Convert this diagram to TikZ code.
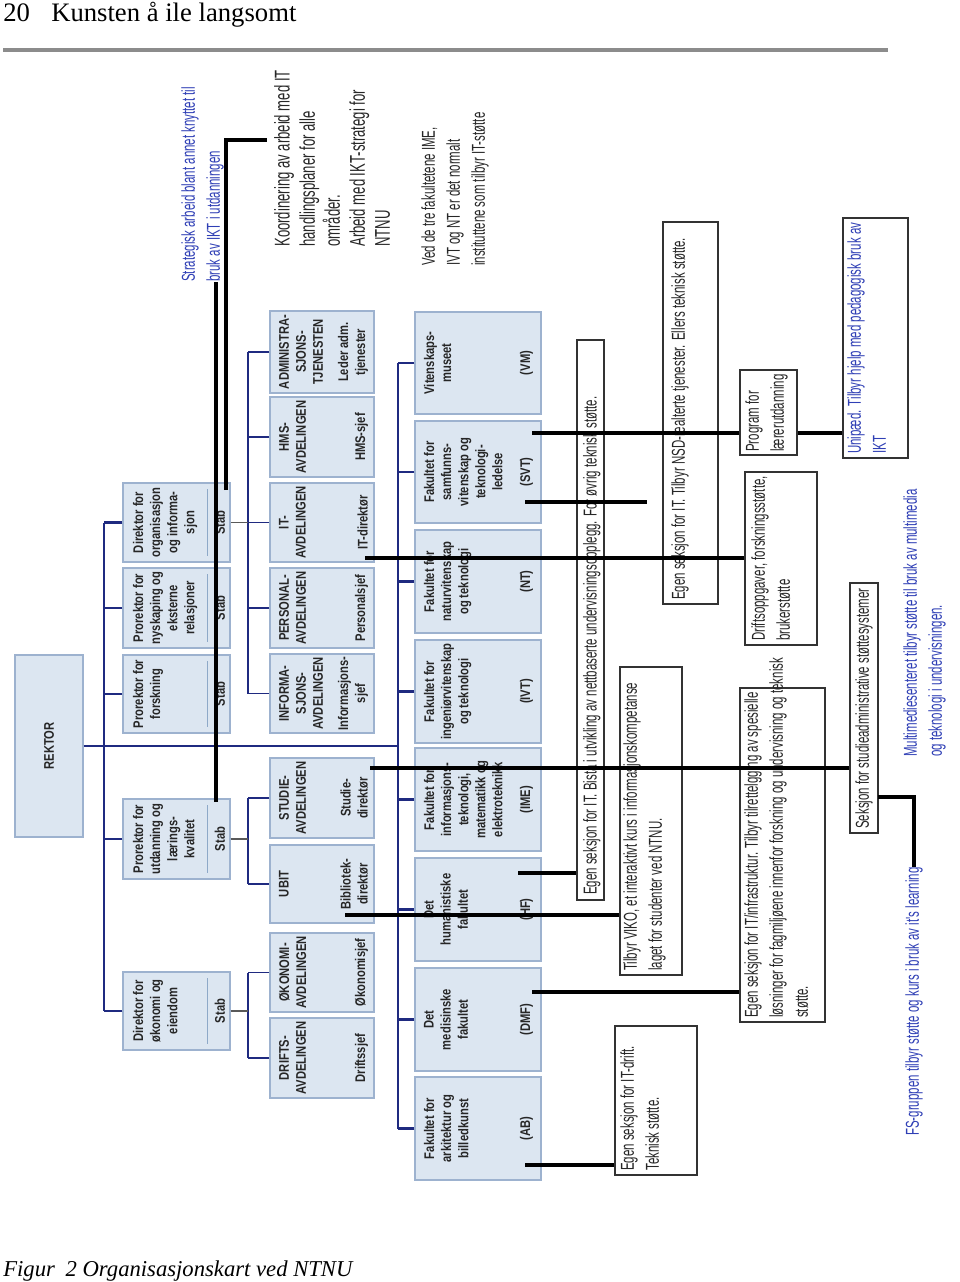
\documentclass[tikz,border=0pt]{standalone}
\usepackage{fontspec}
\setmainfont{Liberation Serif}
\newfontfamily\orgfont{Liberation Sans}[FakeStretch=0.8]
\newfontfamily\notefont{Liberation Sans}[FakeStretch=0.615]
\usepackage{tikz}
\usetikzlibrary{calc, fit}
\definecolor{navybus}{HTML}{1F2A80}
\definecolor{unitfill}{HTML}{DCE6F1}
\definecolor{unitdraw}{HTML}{9DB2CF}
\definecolor{stabsep}{HTML}{8EA9C8}
\definecolor{noteblue}{HTML}{2F3FB5}
\definecolor{rulegray}{HTML}{8C8C8C}
\tikzset{
  orgbox/.style={fill=unitfill, draw=unitdraw, line width=0.9pt, inner sep=0pt},
  notebox/.style={fill=white, draw=black!80, line width=0.9pt, inner sep=0pt},
  orgtxt/.style={rotate=90, align=center, inner sep=1pt, text=black!85,
                 font=\orgfont\bfseries\fontsize{10.5}{12.8}\selectfont},
  notetxt/.style={rotate=90, align=left, inner sep=0pt, text=black!85,
                  font=\notefont\fontsize{14}{18.8}\selectfont},
  bluetxt/.style={notetxt, text=noteblue},
  busline/.style={draw=navybus, line width=1.8pt},
  linkline/.style={draw=black!65, line width=1pt},
  itline/.style={draw=black, line width=2.6pt},
}

\begin{document}
\begin{tikzpicture}[x=0.75pt, y=-0.75pt,
  stabline/.style={draw=stabsep, line width=0.8pt},
  headtxt/.style={font=\fontsize{20}{24}\selectfont, inner sep=0pt},
  capttxt/.style={font=\itshape\fontsize{17}{20}\selectfont, inner sep=0pt}]
  \useasboundingbox (0,0) rectangle (960,1282);
  \node[headtxt, anchor=base west] (pagehead) at (3,21) {20\hspace{16pt}Kunsten å ile langsomt};
  \draw[rulegray, line width=2.3pt] (3,50) -- (888,50);
  \node[capttxt, anchor=base west] (caption) at (3,1276) {Figur\hspace{8pt}2 Organisasjonskart ved NTNU};
  \coordinate (pbus) at (104,0);
  \coordinate (dbus) at (248,0);
  \coordinate (fbus) at (398,0);
  \node[orgbox, fit={(15,655) (83,837)}] (rektor) {};
  \node[orgtxt] at (rektor) {REKTOR};
  \foreach \nm/\ya/\yb/\txt in {org/483/562/{Direktor for\\organisasjon\\og informa-\\sjon},
      nys/568/648/{Prorektor for\\nyskaping og\\eksterne\\relasjoner},
      fors/655/733/{Prorektor for\\forskning},
      utd/799/879/{Prorektor for\\utdanning og\\lærings-\\kvalitet},
      oko/972/1050/{Direktor for\\økonomi og\\eiendom}}
    { \node[orgbox, fit={(123,\ya) (230,\yb)}] (pro-\nm) {};
      \node[orgtxt, anchor=north] at ($(pro-\nm.west)+(9,0)$) {\txt};
      \draw[stabline] ($(pro-\nm.north east)+(-23,7)$) -- ($(pro-\nm.south east)+(-23,-7)$);
      \node[orgtxt, anchor=south] at ($(pro-\nm.east)+(-4,0)$) {Stab};
      \draw[busline] (pro-\nm.west) -- (pro-\nm.west -| pbus); }
  \foreach \nm/\ya/\yb/\txt/\role in {adm/311/393/{ADMINISTRA-\\SJONS-\\TJENESTEN}/{Leder adm.\\tjenester},
      hms/397/477/{HMS-\\AVDELINGEN}/{HMS-sjef},
      it/483/562/{IT-\\AVDELINGEN}/{IT-direktør},
      pers/568/648/{PERSONAL-\\AVDELINGEN}/{Personalsjef},
      info/654/733/{INFORMA-\\SJONS-\\AVDELINGEN}/{Informasjons-\\sjef},
      stud/758/838/{STUDIE-\\AVDELINGEN}/{Studie-\\direktør},
      ubit/845/923/{UBIT}/{Bibliotek-\\direktør},
      okon/933/1012/{ØKONOMI-\\AVDELINGEN}/{Økonomisjef},
      drift/1018/1098/{DRIFTS-\\AVDELINGEN}/{Driftssjef}}
    { \node[orgbox, fit={(270,\ya) (374,\yb)}] (dep-\nm) {};
      \node[orgtxt, anchor=north] at ($(dep-\nm.west)+(8,0)$) {\txt};
      \node[orgtxt, anchor=south] at ($(dep-\nm.east)+(-5,0)$) {\role};
      \draw[busline, line width=1.3pt] (dep-\nm.west) -- (dep-\nm.west -| dbus); }
  \foreach \nm/\ya/\yb/\txt/\ab in {vm/312/414/{Vitenskaps-\\museet}/VM,
      svt/421/523/{Fakultet for\\samfunns-\\vitenskap og\\teknologi-\\ledelse}/SVT,
      nt/530/633/{Fakultet for\\naturvitenskap\\og teknologi}/NT,
      ivt/640/743/{Fakultet for\\ingeniørvitenskap\\og teknologi}/IVT,
      ime/748/851/{Fakultet for\\informasjons-\\teknologi,\\matematikk og\\elektroteknikk}/IME,
      hf/858/961/{Det\\humanistiske\\fakultet}/HF,
      dmf/968/1071/{Det\\medisinske\\fakultet}/DMF,
      ab/1077/1180/{Fakultet for\\arkitektur og\\billedkunst}/AB}
    { \node[orgbox, fit={(415,\ya) (541,\yb)}] (fac-\nm) {};
      \node[orgtxt, anchor=north] at ($(fac-\nm.west)+(8,0)$) {\txt};
      \node[orgtxt, anchor=south] at ($(fac-\nm.east)+(-7,0)$) {(\ab)};
      \draw[busline] (fac-\nm.west) -- (fac-\nm.west -| fbus); }
  \draw[busline] (pro-org.west -| pbus) -- (pro-oko.west -| pbus);
  \draw[busline] (fac-vm.west -| fbus) -- (fac-ab.west -| fbus);
  \draw[busline] (rektor.east) -- (rektor.east -| fbus);
  \draw[busline, line width=1.3pt] (dep-adm.west -| dbus) -- (dep-info.west -| dbus);
  \draw[busline, line width=1.3pt] (dep-stud.west -| dbus) -- (dep-ubit.west -| dbus);
  \draw[busline, line width=1.3pt] (dep-okon.west -| dbus) -- (dep-drift.west -| dbus);
  \draw[linkline] (pro-org.east) -- (pro-org.east -| dbus);
  \draw[linkline] (pro-utd.east) -- (pro-utd.east -| dbus);
  \draw[linkline] (pro-oko.east) -- (pro-oko.east -| dbus);
  \node[notebox, fit={(577,340) (604,900)}] (bista) {};
  \node[notetxt, anchor=west] at (591,895) {Egen seksjon for IT. Bistå i utvikling av nettbaserte undervisningsopplegg. For øvrig teknisk støtte.};
  \node[notebox, fit={(663,222) (718,604)}] (nsd) {};
  \node[notetxt, anchor=west] at (680,600) {Egen seksjon for IT. Tilbyr NSD-realterte tjenester. Ellers teknisk støtte.};
  \node[notebox, fit={(620,667) (682,975)}] (viko) {};
  \node[notetxt, anchor=north west] at (623,971) {Tilbyr VIKO, et interaktivt kurs i informasjonskompetanse\\laget for studenter ved NTNU.};
  \node[notebox, fit={(615,1026) (697,1175)}] (itdrift) {};
  \node[notetxt, anchor=north west] at (620,1171) {Egen seksjon for IT-drift.\\Teknisk støtte.};
  \node[notebox, fit={(740,370) (797,455)}] (plu) {};
  \node[notetxt, anchor=north west] at (745,452) {Program for\\lærerutdanning};
  \node[notebox, fit={(745,472) (817,645)}] (driftopp) {};
  \node[notetxt, anchor=north west] at (751,641) {Driftsoppgaver, forskningsstøtte,\\brukerstøtte};
  \node[notebox, fit={(740,688) (825,1022)}] (infra) {};
  \node[notetxt, anchor=north west] at (744,1018) {Egen seksjon for IT/infrastruktur. Tilbyr tilrettelgging av spesielle\\løsninger for fagmiljøene innenfor forskning og undervisning og teknisk\\støtte.};
  \node[notebox, fit={(850,583) (878,833)}] (fsadm) {};
  \node[notetxt, anchor=west] at (864,829) {Seksjon for studieadministrative støttesystemer};
  \node[notebox, fit={(843,218) (908,458)}] (unip) {};
  \node[bluetxt, anchor=north west] at (847,454) {Unipæd. Tilbyr hjelp med pedagogisk bruk av\\IKT};
  \node[bluetxt, anchor=north west] (multi) at (903,757) {Multimediesenteret tilbyr støtte til bruk av multimedia\\og teknologi i undervisningen.};
  \node[bluetxt, anchor=west] (fs) at (914,1136) {FS-gruppen tilbyr støtte og kurs i bruk av it's learning};
  \node[bluetxt, anchor=north west] (strat) at (181,282) {Strategisk arbeid blant annet knyttet til\\bruk av IKT i utdanningen};
  \node[notetxt, anchor=north west, font=\notefont\fontsize{16}{18.8}\selectfont] (koord) at (274,247) {Koordinering av arbeid med IT\\handlingsplaner for alle\\områder.\\Arbeid med IKT-strategi for\\NTNU};
  \node[notetxt, anchor=north west] (ved) at (421,266) {Ved de tre fakultetene IME,\\IVT og NT er det normalt\\instituttene som tilbyr IT-støtte};
  \coordinate (utd-it) at (216,802);
  \coordinate (org-it) at (226,490);
  \coordinate (koord-in) at (267,140);
  \coordinate (it-it) at (365,558);
  \coordinate (stud-it) at (370,768);
  \coordinate (bib-it) at (345,915);
  \coordinate (svt-a) at (532,433);
  \coordinate (svt-b) at (525,502);
  \coordinate (nsd-in) at (647,502);
  \coordinate (hf-it) at (518,873);
  \coordinate (dmf-it) at (532,992);
  \coordinate (ab-it) at (525,1165);
  \coordinate (fs-out) at (878,797);
  \draw[itline] (utd-it) -- (utd-it |- strat.west);
  \draw[itline] (org-it) |- (koord-in);
  \draw[itline] (it-it) -- (it-it -| driftopp.west);
  \draw[itline] (stud-it) -- (stud-it -| fsadm.west);
  \draw[itline] (bib-it) -- (bib-it -| viko.west);
  \draw[itline] (svt-a) -- (svt-a -| plu.west);
  \draw[itline] (svt-a -| plu.east) -- (svt-a -| unip.west);
  \draw[itline] (svt-b) -- (nsd-in);
  \draw[itline] (hf-it) -- (hf-it -| bista.west);
  \draw[itline] (dmf-it) -- (dmf-it -| infra.west);
  \draw[itline] (ab-it) -- (ab-it -| itdrift.west);
  \draw[itline] (fs-out) -| (fs.east);
\end{tikzpicture}
\end{document}
